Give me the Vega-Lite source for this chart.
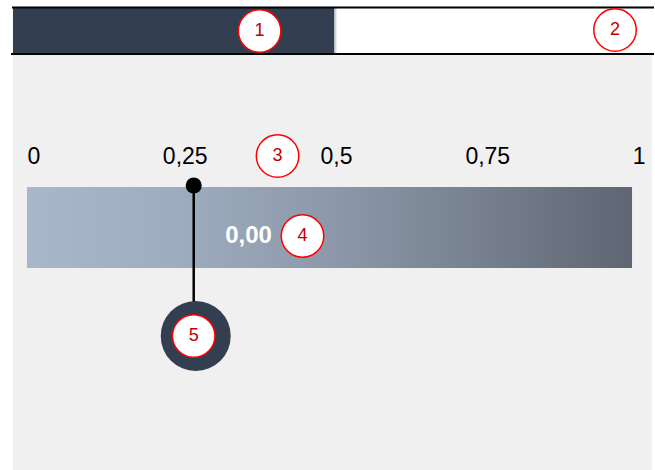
{
  "$schema": "https://vega.github.io/schema/vega-lite/v6.json",
  "width": 655,
  "height": 470,
  "autosize": {"type": "fit", "contains": "padding"},
  "padding": 0,
  "background": "#ffffff",
  "config": {"view": {"stroke": null}},
  "datasets": {
    "panels": [
      {"part": "canvas", "from": -0.0231, "to": 1.033, "top": 55, "bottom": 470},
      {"part": "active tab", "from": -0.0231, "to": 0.5083, "top": 8, "bottom": 53}
    ],
    "borders": [
      {"from": -0.02475, "to": 1.0363, "row": 7.5},
      {"from": -0.0264, "to": 1.0363, "row": 54}
    ],
    "separator": [{"at": 0.5099, "top": 8, "bottom": 53}],
    "gauge": [{"from": 0, "to": 1, "top": 187, "bottom": 268}],
    "ticks": [
      {"tick": 0, "label": "0"},
      {"tick": 0.25, "label": "0,25"},
      {"tick": 0.5, "label": "0,5"},
      {"tick": 0.75, "label": "0,75"},
      {"tick": 1, "label": "1"}
    ],
    "pointer": [{"at": 0.2756, "top": 185.5, "bottom": 302}],
    "value": [{"at": 0.3663, "row": 236, "text": "0,00"}],
    "knob": [{"at": 0.2789, "row": 336}],
    "badges": [
      {"badge": "1", "at": 0.3845, "row": 31},
      {"badge": "2", "at": 0.9719, "row": 30},
      {"badge": "3", "at": 0.4142, "row": 156},
      {"badge": "4", "at": 0.4554, "row": 236},
      {"badge": "5", "at": 0.2756, "row": 336}
    ]
  },
  "encoding": {},
  "layer": [
    {
      "data": {"name": "panels"},
      "mark": {"type": "rect"},
      "encoding": {
        "x": {"field": "from", "type": "quantitative", "scale": {"domain": [-0.04455, 1.0363], "nice": false, "zero": false}, "axis": null},
        "x2": {"field": "to"},
        "y": {"field": "top", "type": "quantitative", "scale": {"domain": [0, 470], "reverse": true, "nice": false, "zero": false}, "axis": null},
        "y2": {"field": "bottom"},
        "color": {"field": "part", "type": "nominal", "scale": {"domain": ["canvas", "active tab"], "range": ["#f0f0f0", "#333f50"]}, "legend": null}
      }
    },
    {
      "data": {"name": "separator"},
      "mark": {"type": "rule", "color": "#d6d6d6", "strokeWidth": 2},
      "encoding": {
        "x": {"field": "at", "type": "quantitative"},
        "y": {"field": "top", "type": "quantitative"},
        "y2": {"field": "bottom"}
      }
    },
    {
      "data": {"name": "borders"},
      "mark": {"type": "rule", "color": "#000000", "strokeWidth": 2},
      "encoding": {
        "x": {"field": "from", "type": "quantitative"},
        "x2": {"field": "to"},
        "y": {"field": "row", "type": "quantitative"}
      }
    },
    {
      "data": {"name": "gauge"},
      "mark": {
        "type": "rect",
        "color": {
          "gradient": "linear", "x1": 0, "y1": 0, "x2": 1, "y2": 0,
          "stops": [
            {"offset": 0, "color": "#a9b7ca"},
            {"offset": 0.25, "color": "#9eacbf"},
            {"offset": 0.5, "color": "#8d99aa"},
            {"offset": 0.75, "color": "#76808e"},
            {"offset": 1, "color": "#5f6673"}
          ]
        }
      },
      "encoding": {
        "x": {"field": "from", "type": "quantitative"},
        "x2": {"field": "to"},
        "y": {"field": "top", "type": "quantitative"},
        "y2": {"field": "bottom"}
      }
    },
    {
      "data": {"name": "ticks"},
      "mark": {"type": "text", "font": "Liberation Sans", "fontSize": 23, "color": "#000000", "align": "center", "baseline": "middle", "dx": 7},
      "encoding": {
        "x": {"field": "tick", "type": "quantitative"},
        "y": {"datum": 157, "type": "quantitative"},
        "text": {"field": "label"}
      }
    },
    {
      "data": {"name": "value"},
      "mark": {"type": "text", "font": "Liberation Sans", "fontSize": 24, "fontWeight": "bold", "color": "#ffffff", "align": "center", "baseline": "middle"},
      "encoding": {
        "x": {"field": "at", "type": "quantitative"},
        "y": {"field": "row", "type": "quantitative"},
        "text": {"field": "text"}
      }
    },
    {
      "data": {"name": "pointer"},
      "mark": {"type": "rule", "color": "#000000", "strokeWidth": 2.5},
      "encoding": {
        "x": {"field": "at", "type": "quantitative"},
        "y": {"field": "top", "type": "quantitative"},
        "y2": {"field": "bottom"}
      }
    },
    {
      "data": {"name": "pointer"},
      "mark": {"type": "point", "shape": "circle", "filled": true, "color": "#000000", "size": 256, "opacity": 1},
      "encoding": {
        "x": {"field": "at", "type": "quantitative"},
        "y": {"field": "top", "type": "quantitative"}
      }
    },
    {
      "data": {"name": "knob"},
      "mark": {"type": "point", "shape": "circle", "filled": true, "color": "#333f50", "size": 4900, "opacity": 1},
      "encoding": {
        "x": {"field": "at", "type": "quantitative"},
        "y": {"field": "row", "type": "quantitative"}
      }
    },
    {
      "data": {"name": "badges"},
      "mark": {"type": "point", "shape": "circle", "filled": true, "fill": "#ffffff", "stroke": "#ff0000", "strokeWidth": 1.5, "size": 1806, "opacity": 1, "fillOpacity": 1, "strokeOpacity": 1},
      "encoding": {
        "x": {"field": "at", "type": "quantitative"},
        "y": {"field": "row", "type": "quantitative"}
      }
    },
    {
      "data": {"name": "badges"},
      "mark": {"type": "text", "font": "Liberation Sans", "fontSize": 18, "color": "#c00000", "align": "center", "baseline": "middle"},
      "encoding": {
        "x": {"field": "at", "type": "quantitative"},
        "y": {"field": "row", "type": "quantitative"},
        "text": {"field": "badge"}
      }
    }
  ]
}
